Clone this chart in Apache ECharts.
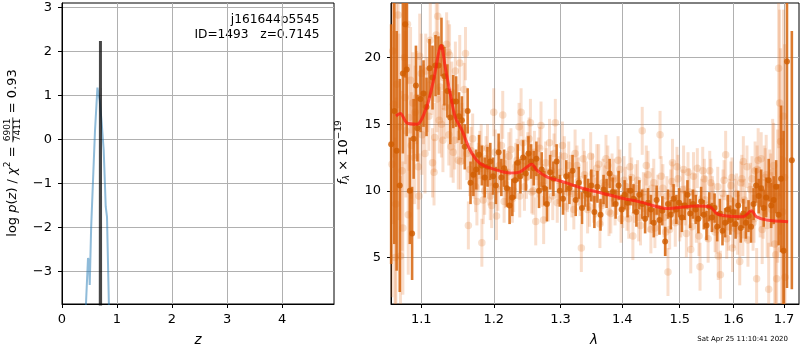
<!DOCTYPE html>
<html>
<head>
<meta charset="utf-8">
<script src="https://cdn.jsdelivr.net/npm/echarts@6/dist/echarts.min.js"></script>
<style>
  html, body { margin: 0; padding: 0; background: #fff; }
  #chart { width: 800px; height: 350px; }
</style>
</head>
<body>
<div id="chart"></div>
<script>
// ---- redshift panel ----
const zTicks = [0, 1, 2, 3, 4];
const logpTicks = [-3, -2, -1, 0, 1, 2, 3];
const chi2Z    = [0.43, 0.473, 0.49, 0.504, 0.53, 0.564, 0.60, 0.644, 0.665, 0.685, 0.72, 0.758, 0.78, 0.795, 0.818, 0.855];
const chi2LogP = [-3.9, -2.70, -2.75, -3.31, -2.0, -0.93, 0.2, 1.18, 1.15, 0.89, 0.4, -0.24, -1.0, -1.53, -1.76, -3.9];
const pzZ    = [0.696, 0.699, 0.702];
const pzLogP = [-3.9, 2.24, -3.9];

// ---- spectrum panel ----
const waveTicks = [1.1, 1.2, 1.3, 1.4, 1.5, 1.6, 1.7];
const fluxTicks = [5, 10, 15, 20];

const darkWave = [1.061,1.065,1.068,1.072,1.076,1.079,1.081,1.085,1.088,1.090,1.093,1.095,1.099,1.103,1.107,1.111,1.115,1.119,1.123,1.127,
  1.131,1.135,1.139,1.143,1.147,1.151,1.155,1.159,1.163,1.167,1.171,1.175,1.179,1.183,1.187,1.191,1.195,1.199,1.203,1.207,
  1.211,1.215,1.219,1.223,1.227,1.231,1.235,1.239,1.243,1.247,1.251,1.255,1.259,1.263,1.267,1.271,1.275,1.279,1.284,1.289,
  1.294,1.299,1.304,1.309,1.314,1.319,1.324,1.329,1.334,1.339,1.344,1.349,1.354,1.359,1.364,1.369,1.374,1.379,1.384,1.389,
  1.394,1.399,1.404,1.409,1.414,1.419,1.424,1.429,1.434,1.439,1.444,1.449,1.454,1.459,1.464,1.469,1.474,1.479,1.484,1.489,
  1.494,1.499,1.504,1.509,1.514,1.519,1.524,1.529,1.534,1.539,1.544,1.549,1.554,1.559,1.564,1.569,1.574,1.579,1.584,1.589,
  1.594,1.599,1.604,1.609,1.614,1.619,1.624,1.629,1.634,1.639,1.644,1.649,1.654,1.659,1.664,1.669,1.674,1.679,1.684,1.689,
  1.694,1.699,1.706,1.716];
const darkFlux = [13.5,16.0,13.0,10.4,18.8,22.5,19.1,10.0,6.8,13.9,17.9,14.7,16.9,17.3,16.3,19.2,18.5,19.4,19.4,20.8,
  18.6,17.5,15.5,16.7,16.7,15.6,15.3,13.3,16.0,10.6,11.2,11.6,12.7,11.9,11.0,11.8,12.2,11.1,10.4,12.9,
  11.0,11.7,10.2,8.9,9.5,10.8,12.1,11.1,12.5,11.3,12.8,12.2,11.7,12.4,10.0,11.6,10.2,9.0,11.4,10.9,
  12.2,10.0,9.4,11.1,10.2,11.5,9.3,10.6,8.7,10.0,9.7,10.4,8.4,10.3,8.2,10.1,9.8,11.3,9.9,9.0,
  10.4,8.6,9.7,9.1,10.0,9.4,8.4,9.7,9.0,7.9,9.1,8.6,7.6,9.3,7.8,8.5,6.2,9.0,8.2,9.4,
  8.6,9.1,8.0,8.9,9.7,8.3,9.0,8.6,7.9,9.2,8.2,7.4,8.8,8.0,8.7,7.3,8.3,7.0,7.6,8.6,
  7.8,8.4,7.5,8.9,7.2,8.3,7.6,8.1,7.3,9.0,10.4,9.6,10.2,8.7,9.5,10.8,8.9,9.3,10.3,8.2,
  10.9,5.5,19.7,12.3];
const darkErr = [9,10,9,8,6,4,5,4,3.5,3,3,2.5,2.5,2.5,2.2,2.2,2.4,2.3,2.2,2.2,
  2.2,2,2,2,1.9,1.8,1.8,1.7,1.7,1.6,1.6,1.5,1.5,1.5,1.5,1.5,1.4,1.4,1.4,1.4,
  1.4,1.4,1.4,1.4,1.4,1.4,1.4,1.3,1.3,1.3,1.3,1.3,1.3,1.3,1.3,1.3,1.3,1.3,1.3,1.3,
  1.3,1.2,1.2,1.2,1.2,1.2,1.2,1.2,1.2,1.2,1.2,1.2,1.2,1.2,1.2,1.1,1.1,1.1,1.1,1.1,
  1.1,1.1,1.1,1.1,1.1,1.1,1.1,1.1,1.1,1.1,1.1,1.1,1.1,1.1,1.1,1.1,1.1,1.1,1.1,1.1,
  1.1,1.1,1.1,1.1,1.1,1.1,1.1,1.1,1.1,1.1,1.1,1.1,1.1,1.1,1.1,1.1,1.1,1.1,1.1,1.1,
  1.1,1.1,1.1,1.1,1.1,1.1,1.2,1.2,1.2,1.2,1.3,1.3,1.4,1.4,1.5,1.6,1.7,1.8,2,2.3,
  5.5,9,17,9.7];

// first faint exposure
const lightWave = [1.062,1.064,1.066,1.068,1.070,1.073,1.076,1.078,1.080,1.082,1.084,1.086,1.089,1.091,1.094,1.097,1.098,1.100,1.103,1.105,
  1.108,1.112,1.115,1.118,1.120,1.122,1.124,1.127,1.130,1.134,1.136,1.138,1.140,1.143,1.146,1.150,1.152,1.155,1.158,1.160,
  1.164,1.168,1.172,1.176,1.180,1.183,1.187,1.191,1.195,1.200,1.204,1.208,1.213,1.217,1.222,1.227,1.232,1.237,1.240,1.245,
  1.250,1.254,1.258,1.262,1.266,1.270,1.274,1.278,1.283,1.288,1.292,1.297,1.303,1.308,1.313,1.318,1.323,1.328,1.333,1.338,
  1.343,1.348,1.353,1.358,1.363,1.368,1.373,1.378,1.383,1.388,1.393,1.398,1.403,1.408,1.413,1.418,1.423,1.428,1.434,1.439,
  1.444,1.449,1.454,1.459,1.465,1.470,1.475,1.479,1.484,1.487,1.492,1.497,1.502,1.507,1.512,1.517,1.520,1.525,1.530,1.537,
  1.542,1.547,1.552,1.557,1.562,1.567,1.571,1.575,1.580,1.585,1.590,1.595,1.598,1.603,1.608,1.612,1.616,1.619,1.623,1.628,
  1.633,1.638,1.642,1.645,1.648,1.652,1.656,1.660,1.664,1.669,1.673,1.677,1.681,1.685,1.689,1.691,1.695,1.699,1.702];
const lightFlux = [12.0,16.5,5.0,18.0,23.2,5.1,7.2,20.0,14.5,22.5,15.5,18.3,16.6,12.5,17.0,9.6,20.1,18.8,16.5,12.8,
  17.2,21.3,12.1,14.0,21.7,23.1,15.3,15.0,18.5,21.0,20.4,20.2,13.3,12.9,19.0,12.3,19.6,14.5,17.6,20.3,
  7.4,13.0,11.2,9.2,12.7,6.1,10.0,13.2,9.6,15.9,8.1,11.9,15.7,10.5,12.6,9.4,11.8,14.8,15.9,10.3,
  12.6,15.1,10.0,7.7,12.2,14.9,7.8,11.4,13.6,9.6,15.1,10.8,13.4,8.8,11.9,9.8,12.8,10.7,5.7,11.2,
  8.6,12.6,9.4,11.7,7.5,10.6,12.4,8.4,11.0,9.2,12.3,7.9,10.8,8.8,11.8,6.6,10.2,8.0,14.5,9.5,
  11.2,7.1,10.6,8.4,14.2,10.2,6.9,3.9,9.8,12.1,7.6,10.9,8.3,11.6,6.8,9.9,5.6,11.1,7.9,4.3,
  11.5,9.3,6.4,10.6,8.8,7.1,5.1,3.7,9.8,12.7,7.3,10.4,5.7,9.1,7.0,4.7,10.9,12.2,8.1,6.3,
  10.1,7.6,11.5,3.4,12.3,9.0,7.1,10.6,11.2,2.6,9.3,11.4,6.0,3.4,19.2,16.6,5.6,15.6,3.5];
const lightErr = [10,9,9,8,7,6,5,5,5,4.5,4,4,3.8,3.5,3.5,3.2,3.2,3,3,3,
  2.8,2.8,2.6,2.6,2.6,2.6,2.5,2.5,2.4,2.4,2.4,2.3,2.3,2.3,2.2,2.2,2.1,2.1,2.0,2.0,
  1.8,1.8,1.8,1.8,1.8,1.8,1.8,1.8,1.8,1.8,1.8,1.8,1.8,1.8,1.8,1.8,1.8,1.8,1.8,1.8,
  1.8,1.8,1.8,1.8,1.8,1.8,1.8,1.8,1.8,1.8,1.8,1.8,1.8,1.8,1.8,1.8,1.8,1.8,1.8,1.8,
  1.8,1.8,1.8,1.8,1.8,1.8,1.8,1.8,1.8,1.8,1.8,1.8,1.8,1.8,1.8,1.8,1.8,1.8,1.8,1.8,
  1.8,1.8,1.8,1.8,1.8,1.8,1.8,1.8,1.8,1.8,1.8,1.8,1.8,1.8,1.8,1.8,1.8,1.8,1.8,1.8,
  1.8,1.8,1.8,1.8,1.8,1.8,1.8,1.8,1.8,1.8,1.8,1.8,1.8,1.8,1.8,1.8,1.8,1.9,1.9,2.0,
  2.0,2.1,2.2,2.3,2.4,2.5,2.6,2.8,3,3.5,3.5,4,4.5,5,6,7,7,8,9];

// second faint exposure
const lightWave2 = [1.063,1.067,1.071,1.075,1.079,1.083,1.087,1.092,1.096,1.101,1.106,1.110,1.114,1.117,1.121,1.125,1.129,1.132,1.137,1.141,
  1.145,1.149,1.153,1.157,1.162,1.166,1.170,1.174,1.178,1.182,1.185,1.189,1.193,1.197,1.202,1.206,1.211,1.215,1.220,1.225,
  1.229,1.234,1.238,1.243,1.248,1.252,1.256,1.260,1.264,1.268,1.272,1.277,1.281,1.286,1.290,1.295,1.300,1.306,1.311,1.316,
  1.321,1.326,1.331,1.336,1.341,1.346,1.351,1.356,1.361,1.366,1.371,1.376,1.381,1.386,1.391,1.396,1.401,1.406,1.411,1.416,
  1.421,1.426,1.431,1.436,1.441,1.446,1.451,1.456,1.461,1.467,1.472,1.477,1.482,1.486,1.490,1.495,1.500,1.505,1.510,1.515,
  1.522,1.527,1.532,1.535,1.540,1.545,1.550,1.555,1.560,1.565,1.570,1.577,1.582,1.587,1.592,1.597,1.601,1.606,1.610,1.614,
  1.618,1.621,1.626,1.631,1.636,1.640,1.646,1.650,1.654,1.658,1.662,1.666,1.671,1.675,1.679,1.683,1.687,1.693,1.697,1.701];
const lightFlux2 = [20.5,9.0,14.8,11.5,17.0,8.2,13.4,15.9,11.8,14.2,19.0,15.6,18.3,11.4,16.9,17.8,13.8,16.3,14.2,17.4,
  13.8,15.8,12.2,14.1,12.8,11.6,13.9,10.3,11.8,13.2,9.3,12.4,10.6,8.9,12.9,10.1,13.4,9.2,11.4,13.1,
  10.0,12.3,9.6,13.6,11.0,13.9,9.9,12.9,11.1,13.2,10.4,12.1,9.3,11.5,12.8,9.1,11.4,12.6,9.9,11.2,
  8.6,11.9,9.6,12.4,10.7,8.8,11.3,9.5,12.0,8.9,10.4,11.9,8.3,10.9,9.7,11.6,8.7,10.3,7.9,11.0,
  9.1,10.8,7.4,9.9,11.9,8.4,10.2,7.2,9.7,11.1,8.0,9.6,7.1,10.7,9.0,11.8,7.7,10.1,8.9,11.4,
  7.3,9.8,11.7,6.6,9.4,10.9,7.7,11.5,9.6,6.9,10.3,8.2,10.8,6.4,9.4,11.0,7.2,9.8,8.1,10.6,
  6.7,9.3,11.8,8.9,10.9,7.9,11.6,9.9,12.4,8.4,11.0,7.4,10.5,8.6,11.9,5.2,9.6,13.7,8.4,11.0];
const lightErr2 = [8,8,7,6,5,4.5,4,3.5,3.2,3,2.8,2.6,2.6,2.5,2.5,2.5,2.4,2.4,2.3,2.3,
  2.2,2.2,2.1,2.1,2.0,2.0,1.9,1.9,1.8,1.8,1.8,1.7,1.7,1.7,1.7,1.6,1.6,1.6,1.6,1.6,
  1.6,1.6,1.6,1.6,1.6,1.6,1.6,1.6,1.6,1.6,1.6,1.6,1.6,1.5,1.5,1.5,1.5,1.5,1.5,1.5,
  1.5,1.5,1.5,1.5,1.5,1.5,1.5,1.5,1.5,1.5,1.5,1.5,1.5,1.5,1.5,1.5,1.5,1.5,1.5,1.5,
  1.5,1.5,1.5,1.5,1.5,1.5,1.5,1.5,1.5,1.5,1.5,1.5,1.5,1.5,1.5,1.5,1.5,1.5,1.5,1.5,
  1.5,1.5,1.5,1.5,1.5,1.5,1.5,1.5,1.5,1.5,1.5,1.5,1.5,1.5,1.5,1.5,1.5,1.5,1.6,1.6,
  1.6,1.6,1.6,1.7,1.7,1.8,1.8,1.9,2.0,2.0,2.2,2.4,2.6,2.8,3.2,4,5,7,8,10];

// best-fit template
const modelWave = [1.0671,1.0727,1.0813,1.0943,1.1075,1.1163,1.1267,1.1321,1.1389,1.1457,1.1550,1.1665,1.1806,1.2044,1.2238,
  1.2385,1.2560,1.2636,1.2788,1.3045,1.3361,1.3685,1.4017,1.4301,1.4647,1.4765,1.5306,1.5552,1.5677,1.5866,
  1.6185,1.6349,1.6447,1.6645,1.7082];
const modelFlux = [15.62,15.8,15.1,15.0,16.35,18.3,20.9,19.3,17.3,15.55,14.55,13.05,12.05,11.55,11.34,
  11.42,12.0,11.55,11.05,10.67,10.17,9.8,9.42,9.17,8.75,8.67,8.85,8.8,8.3,8.1,
  8.05,8.5,8.05,7.8,7.67];

// ---- axis ranges ----
const Z_MIN = 0, Z_MAX = 4.945;
const LOGP_MIN = -3.743, LOGP_MAX = 3.105;
const WAVE_MIN = 1.0608, WAVE_MAX = 1.7308;
const FLUX_MIN = 1.5, FLUX_MAX = 24.1;

const FONT = 'DejaVu Sans';
const GRID_COLOR = '#b0b0b0';
const minus = v => (v < 0 ? '\u2212' + Math.abs(v) : String(v));

const measureCtx = document.createElement('canvas').getContext('2d');
function measure(t, fs, it) {
  measureCtx.font = (it ? 'italic ' : '') + fs + 'px "' + FONT + '"';
  return measureCtx.measureText(t).width;
}

// vertical label built from inline pieces, centred on (cx, cy), reading bottom to top
function rotatedLabel(pieces, cx, cy) {
  let x = 0;
  const children = [];
  pieces.forEach(p => {
    const fs = p.fs || 13;
    if (p.frac) {
      const w = Math.max(measure(p.frac[0], fs), measure(p.frac[1], fs)) + 2;
      children.push({ type: 'text', x: x + w / 2, y: -4.6, style: { text: p.frac[0], fontSize: fs, fontFamily: FONT, fill: '#000', align: 'center', verticalAlign: 'middle' } });
      children.push({ type: 'text', x: x + w / 2, y: 5.2, style: { text: p.frac[1], fontSize: fs, fontFamily: FONT, fill: '#000', align: 'center', verticalAlign: 'middle' } });
      children.push({ type: 'line', shape: { x1: x, y1: 0.3, x2: x + w, y2: 0.3 }, style: { stroke: '#000', lineWidth: 0.8 } });
      x += w;
    } else {
      children.push({ type: 'text', x: x, y: p.dy || 0, style: { text: p.t, fontSize: fs, fontFamily: FONT, fontStyle: p.it ? 'italic' : 'normal', fill: '#000', align: 'left', verticalAlign: 'middle' } });
      x += measure(p.t, fs, p.it);
    }
  });
  return { type: 'group', x: cx, y: cy + x / 2, rotation: Math.PI / 2, children };
}

function errorBars(wave, flux, err, color, width, z) {
  return {
    type: 'custom', xAxisIndex: 1, yAxisIndex: 1, z, silent: true,
    data: wave.map((w, i) => [w, flux[i], err[i]]),
    encode: { x: 0, y: 1 },
    renderItem(params, api) {
      const x = api.value(0), y = api.value(1), e = api.value(2);
      const lo = Math.max(y - e, FLUX_MIN), hi = Math.min(y + e, FLUX_MAX);
      if (hi <= lo) return null;
      const p1 = api.coord([x, lo]), p2 = api.coord([x, hi]);
      return { type: 'line', shape: { x1: p1[0], y1: p1[1], x2: p2[0], y2: p2[1] }, style: { stroke: color, lineWidth: width } };
    }
  };
}

function points(wave, flux, size, color, z) {
  return {
    type: 'scatter', xAxisIndex: 1, yAxisIndex: 1, z, silent: true,
    data: wave.map((w, i) => [w, flux[i]]),
    symbolSize: size, itemStyle: { color }
  };
}

const axisCommon = {
  axisLine: { show: true, onZero: false, lineStyle: { color: '#000', width: 1 } },
  axisTick: { show: true, inside: false, length: 4, lineStyle: { color: '#000', width: 1 } },
  splitLine: { show: true, lineStyle: { color: GRID_COLOR, width: 1 } },
  axisLabel: { color: '#000', fontSize: 13, fontFamily: FONT }
};

function valueAxis(gridIndex, min, max, ticks, fmt, margin) {
  return {
    type: 'value', gridIndex, min, max,
    axisLine: axisCommon.axisLine,
    axisTick: Object.assign({ customValues: ticks }, axisCommon.axisTick),
    splitLine: axisCommon.splitLine,
    axisLabel: Object.assign({ customValues: ticks, formatter: fmt, margin, showMinLabel: true, showMaxLabel: true }, axisCommon.axisLabel)
  };
}

const LIGHT_BAR = 'rgba(230,125,50,0.25)';
const LIGHT_DOT = 'rgba(225,115,35,0.28)';

const chart = echarts.init(document.getElementById('chart'), null, { renderer: 'canvas' });

chart.setOption({
  animation: false,
  backgroundColor: '#fff',
  grid: [
    { left: 62, top: 3, width: 272, height: 301, show: true, borderColor: '#000', borderWidth: 1, backgroundColor: 'transparent' },
    { left: 391, top: 3, width: 408, height: 301, show: true, borderColor: '#000', borderWidth: 1, backgroundColor: 'transparent' }
  ],
  xAxis: [
    valueAxis(0, Z_MIN, Z_MAX, zTicks, v => String(v), 9),
    Object.assign(valueAxis(1, WAVE_MIN, WAVE_MAX, waveTicks, v => v.toFixed(1), 9), { type: 'log', logBase: 10 })
  ],
  yAxis: [
    valueAxis(0, LOGP_MIN, LOGP_MAX, logpTicks, minus, 10),
    valueAxis(1, FLUX_MIN, FLUX_MAX, fluxTicks, v => String(v), 10)
  ],
  series: [
    {
      type: 'line', xAxisIndex: 0, yAxisIndex: 0, z: 3,
      data: chi2Z.map((z, i) => [z, chi2LogP[i]]),
      showSymbol: false, lineStyle: { color: 'rgba(31,119,180,0.5)', width: 2 }
    },
    {
      type: 'line', xAxisIndex: 0, yAxisIndex: 0, z: 4,
      data: pzZ.map((z, i) => [z, pzLogP[i]]),
      showSymbol: false, lineStyle: { color: 'rgba(0,0,0,0.72)', width: 3 }
    },
    errorBars(lightWave, lightFlux, lightErr, LIGHT_BAR, 3, 2),
    errorBars(lightWave2, lightFlux2, lightErr2, LIGHT_BAR, 3, 2),
    points(lightWave, lightFlux, 7.5, LIGHT_DOT, 2),
    points(lightWave2, lightFlux2, 7.5, LIGHT_DOT, 2),
    errorBars(darkWave, darkFlux, darkErr, 'rgba(214,100,12,0.85)', 2.6, 3),
    points(darkWave, darkFlux, 6, 'rgb(208,92,0)', 3),
    {
      type: 'line', xAxisIndex: 1, yAxisIndex: 1, z: 5, smooth: 0.3,
      data: modelWave.map((w, i) => [w, modelFlux[i]]),
      showSymbol: false, lineStyle: { color: 'rgba(255,25,20,0.72)', width: 3 }
    }
  ],
  graphic: [
    { type: 'text', x: 319.5, y: 20, style: { text: 'j161644p5545', fontSize: 12.2, fontFamily: FONT, fill: '#000', align: 'right', verticalAlign: 'middle' } },
    { type: 'text', x: 319.5, y: 34.5, style: { text: 'ID=1493   z=0.7145', fontSize: 12.2, fontFamily: FONT, fill: '#000', align: 'right', verticalAlign: 'middle' } },
    { type: 'text', x: 198, y: 340, style: { text: 'z', fontSize: 13.5, fontStyle: 'italic', fontFamily: FONT, fill: '#000', align: 'center', verticalAlign: 'middle' } },
    { type: 'text', x: 594, y: 340, style: { text: '\u03bb', fontSize: 13.5, fontStyle: 'italic', fontFamily: FONT, fill: '#000', align: 'center', verticalAlign: 'middle' } },
    { type: 'text', x: 788, y: 339, style: { text: 'Sat Apr 25 11:10:41 2020', fontSize: 7, fontFamily: FONT, fill: '#000', align: 'right', verticalAlign: 'middle' } },
    rotatedLabel([
      { t: 'log ' }, { t: 'p', it: true }, { t: '(' }, { t: 'z', it: true }, { t: ') / ' }, { t: '\u03c7', it: true },
      { t: '2', fs: 9, dy: -5 }, { t: ' = ' }, { frac: ['6901', '7411'], fs: 9 }, { t: ' = 0.93' }
    ], 12.5, 153),
    rotatedLabel([
      { t: 'f', it: true }, { t: '\u03bb', fs: 9, it: true, dy: 3.5 }, { t: ' \u00d7 10' }, { t: '\u221219', fs: 9, dy: -5 }
    ], 343.5, 152.5)
  ]
});
</script>
</body>
</html>
